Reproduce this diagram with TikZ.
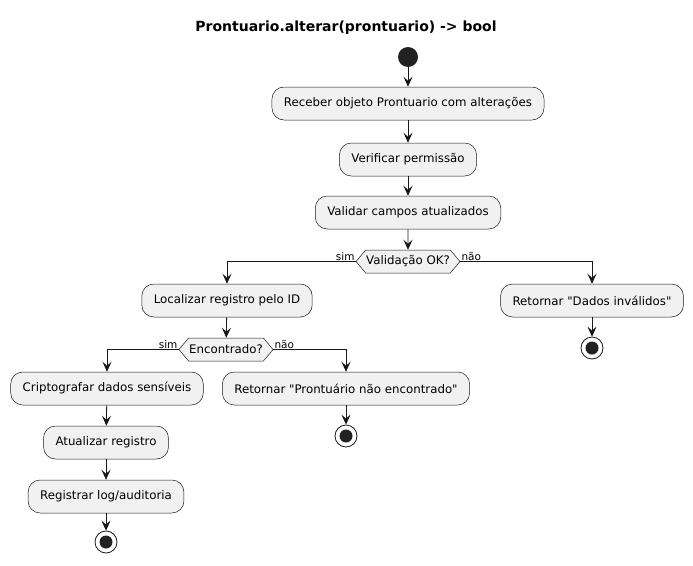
\documentclass[tikz,border=0pt]{standalone}
\usepackage{fontspec}
\setmainfont{DejaVu Sans}[Ligatures=TeXOff]
\usetikzlibrary{arrows.meta,shapes.symbols}
\definecolor{boxfill}{HTML}{F1F1F1}
\definecolor{boxline}{HTML}{181818}
\definecolor{dotfill}{HTML}{222222}
\begin{document}
\begin{tikzpicture}[x=1pt,y=-1pt,
  font=\fontsize{11.8}{14}\selectfont,
  act/.style={draw=boxline, fill=boxfill, rounded corners=12pt, minimum height=33pt, inner xsep=12pt, line width=0.5pt},
  cond/.style={draw=boxline, fill=boxfill, signal, signal to=east and west, signal pointer angle=100, minimum height=23pt, inner xsep=0.5pt, inner ysep=0pt, line width=0.5pt},
  startdot/.style={circle, fill=dotfill, minimum size=20pt, inner sep=0pt},
  stopdot/.style={circle, draw=boxline, fill=white, minimum size=22pt, inner sep=0pt, line width=0.8pt,
    path picture={\fill[dotfill] (path picture bounding box.center) circle (6.5pt);}},
  flow/.style={draw=boxline, line width=0.8pt, -{Stealth[length=10pt,width=9pt,inset=4pt]}},
  lbl/.style={font=\fontsize{10.5}{12}\selectfont, inner sep=1pt}]
\useasboundingbox (0,0) rectangle (693,565);
\node[font=\bfseries\fontsize{14}{16}\selectfont] (title) at (346,28) {Prontuario.alterar(prontuario) -> bool};
\node[startdot] (start) at (408,57) {};
\node[act] (receber) at (408,103.5) {Receber objeto Prontuario com alterações};
\node[act] (verificar) at (408,159.5) {Verificar permissão};
\node[act] (validar) at (408,212.5) {Validar campos atualizados};
\node[cond] (validok) at (408,261.5) {Validação OK?};
\node[act] (localizar) at (227,300.5) {Localizar registro pelo ID};
\node[act] (invalidos) at (592,300.5) {Retornar "Dados inválidos"};
\node[stopdot] (stop1) at (592,348) {};
\node[cond] (encontrado) at (226,349.5) {Encontrado?};
\node[act] (cripto) at (107,388.5) {Criptografar dados sensíveis};
\node[act] (naoenc) at (346,388.5) {Retornar "Prontuário não encontrado"};
\node[stopdot] (stop2) at (346,436) {};
\node[act] (atualizar) at (106,442.5) {Atualizar registro};
\node[act] (registrar) at (106,496.5) {Registrar log/auditoria};
\node[stopdot] (stop3) at (106,542) {};
\path[flow] (start) -- (receber);
\path[flow] (receber) -- (verificar);
\path[flow] (verificar) -- (validar);
\path[flow] (validar) -- (validok);
\path[flow] (validok.west) -| (localizar);
\path[flow] (validok.east) -| (invalidos);
\path[flow] (invalidos) -- (stop1);
\path[flow] (localizar) -- (encontrado);
\path[flow] (encontrado.west) -| (cripto);
\path[flow] (encontrado.east) -| (naoenc);
\path[flow] (naoenc) -- (stop2);
\path[flow] (cripto) -- (atualizar);
\path[flow] (atualizar) -- (registrar);
\path[flow] (registrar) -- (stop3);
\node[lbl, anchor=south east] at (validok.west) {sim};
\node[lbl, anchor=south west] at (validok.east) {não};
\node[lbl, anchor=south east] at (encontrado.west) {sim};
\node[lbl, anchor=south west] at (encontrado.east) {não};
\end{tikzpicture}
\end{document}
